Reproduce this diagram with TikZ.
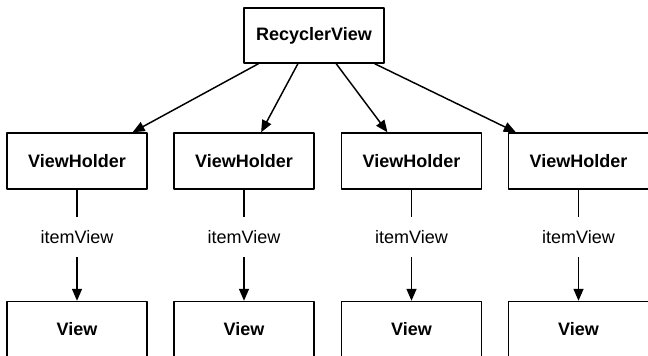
\documentclass[tikz,border=0pt]{standalone}
\usepackage{fontspec}
\setmainfont{Liberation Sans}
\usetikzlibrary{calc, arrows.meta}

\begin{document}
\begin{tikzpicture}[x=0.75pt, y=-0.75pt, line join=round,
    box/.style={draw, line width=1.1pt, fill=white, inner sep=0pt,
        minimum width=105pt, minimum height=42pt,
        font=\fontsize{13.5}{16}\selectfont\bfseries},
    link/.style={line width=1.1pt, -{Triangle[length=9pt, width=7.5pt]}},
    tag/.style={inner sep=0pt, minimum height=30pt,
        font=\fontsize{13.5}{16}\selectfont}]

    % Frame of the picture (pixel grid of the reference, y downwards)
    \clip (0,0) rectangle (648,356);

    % Root
    \node[box, minimum height=41.25pt] (rv) at (314,35.5) {RecyclerView};

    % One column per holder: holder box, itemView label, view box
    % (the view boxes run past the lower edge, as in the reference)
    \foreach \i/\x/\s/\e in {1/77/0.107/0.893, 2/244/0.386/0.621,
                             3/411.5/0.657/0.33, 4/578.5/0.929/0.057} {
        \node[box] (vh\i) at (\x,161) {ViewHolder};
        \node[tag] (iv\i) at (\x,237) {itemView};
        \node[box] (v\i) at (\x,329.5) {View};

        % RecyclerView -> ViewHolder
        \draw[link] ($(rv.south west)!\s!(rv.south east)$)
            -- ($(vh\i.north west)!\e!(vh\i.north east)$);

        % ViewHolder -- itemView -> View
        \draw[line width=1.1pt] (vh\i.south) -- (iv\i.north);
        \draw[link] (iv\i.south) -- (v\i.north);
    }

\end{tikzpicture}
\end{document}
